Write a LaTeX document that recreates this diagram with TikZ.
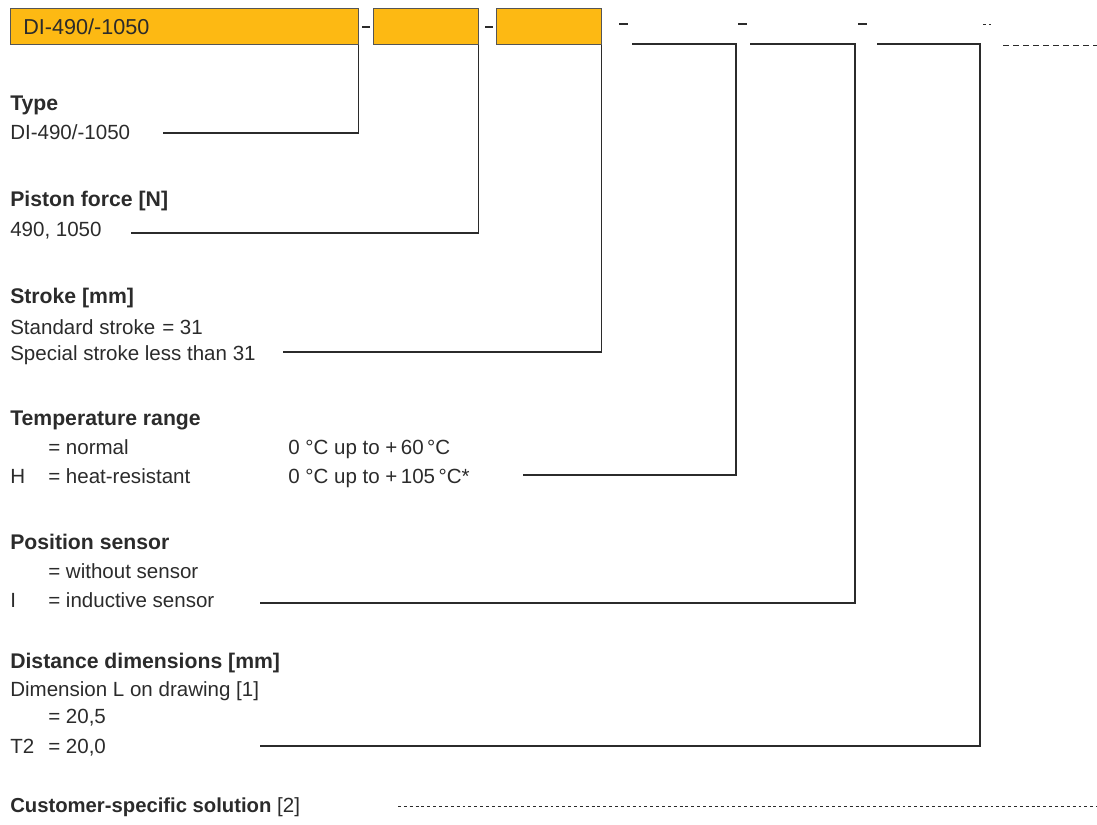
\documentclass[tikz,border=0pt]{standalone}
\usepackage{fontspec}
\setmainfont{Liberation Sans}
\definecolor{boxor}{HTML}{FDB913}
\definecolor{ink}{HTML}{2B2B2B}
\begin{document}
\begin{tikzpicture}[x=0.75pt,y=-0.75pt,
  txt/.style={anchor=base west, inner sep=0pt, text=ink, font=\fontsize{15.4}{18}\selectfont},
  hd/.style={txt, font=\fontsize{15.9}{18}\selectfont\bfseries},
  ln/.style={draw=ink, line width=0.8pt},
  dsh/.style={draw=ink, line width=0.7pt, dash pattern=on 4.5pt off 3pt},
  fine/.style={draw=ink, line width=0.6pt, dash pattern=on 2.2pt off 2.2pt},
  obox/.style={draw=ink!80, fill=boxor, line width=0.6pt, anchor=north west, inner sep=0pt, minimum height=27pt},
  sep/.style={draw=ink, line width=0.8pt}]
\useasboundingbox (0,0) rectangle (1097,825);

% top boxes
\node[obox, minimum width=261pt] (b1) at (10,8) {};
\node[obox, minimum width=78.75pt] (b2) at (373,8) {};
\node[obox, minimum width=78.75pt] (b3) at (496,8) {};
\node[txt, font=\fontsize{16.2}{18}\selectfont] (bt) at (23,34) {DI-490/-1050};

% separators
\coordinate (s1a) at (362,27); \coordinate (s1b) at (370,27);
\coordinate (s2a) at (485,27); \coordinate (s2b) at (493,27);
\coordinate (s3a) at (619,24); \coordinate (s3b) at (628,24);
\coordinate (s4a) at (738,24); \coordinate (s4b) at (747,24);
\coordinate (s5a) at (858,24); \coordinate (s5b) at (867,24);
\coordinate (s6a) at (983,24); \coordinate (s6b) at (991,24);
\draw[sep] (s1a) -- (s1b);
\draw[sep] (s2a) -- (s2b);
\draw[sep] (s3a) -- (s3b);
\draw[sep] (s4a) -- (s4b);
\draw[sep] (s5a) -- (s5b);
\draw[fine] (s6a) -- (s6b);
\coordinate (d1a) at (1003,45); \coordinate (d1b) at (1097,45);
\draw[dsh] (d1a) -- (d1b);

% Type
\node[hd] (h1) at (10,110) {Type};
\node[txt] (t1) at (10,139) {DI-490/-1050};
\coordinate (e1) at (163,133);
\draw[ln] (b1.south east) |- (e1);

% Piston force
\node[hd] (h2) at (10,206) {Piston force [N]};
\node[txt] (t2) at (10,236) {490, 1050};
\coordinate (e2) at (131,233);
\draw[ln] (b2.south east) |- (e2);

% Stroke
\node[hd] (h3) at (10,303) {Stroke [mm]};
\node[txt] (t3a) at (10,334) {Standard stroke};
\node[txt] (t3b) at (162,334) {= 31};
\node[txt] (t3c) at (10,360) {Special stroke less than 31};
\coordinate (e3) at (283,352);
\draw[ln] (b3.south east) |- (e3);

% Temperature
\node[hd] (h4) at (10,425) {Temperature range};
\node[txt] (t4a) at (48,454) {= normal};
\node[txt] (t4b) at (288,454) {0 °C up to +\,60\,°C};
\node[txt] (t4c) at (10,483) {H};
\node[txt] (t4d) at (48,483) {= heat-resistant};
\node[txt] (t4e) at (288,483) {0 °C up to +\,105\,°C*};
\coordinate (c4a) at (632,44); \coordinate (c4b) at (736,44);
\coordinate (e4) at (523,475);
\draw[ln] (c4a) -- (c4b) |- (e4);

% Position sensor
\node[hd] (h5) at (10,549) {Position sensor};
\node[txt] (t5a) at (48,578) {= without sensor};
\node[txt] (t5b) at (10,607) {I};
\node[txt] (t5c) at (48,607) {= inductive sensor};
\coordinate (c5a) at (750,44); \coordinate (c5b) at (855,44);
\coordinate (e5) at (260,603);
\draw[ln] (c5a) -- (c5b) |- (e5);

% Distance dimensions
\node[hd] (h6) at (10,668) {Distance dimensions [mm]};
\node[txt] (t6a) at (10,696) {Dimension L on drawing [1]};
\node[txt] (t6b) at (48,723) {= 20,5};
\node[txt] (t6c) at (10,753) {T2};
\node[txt] (t6d) at (48,753) {= 20,0};
\coordinate (c6a) at (877,44); \coordinate (c6b) at (980,44);
\coordinate (e6) at (260,746);
\draw[ln] (c6a) -- (c6b) |- (e6);

% Customer-specific
\node[txt] (h7) at (10,812) {{\fontsize{15.2}{18}\selectfont\bfseries Customer-specific solution} [2]};
\coordinate (c7a) at (398,806); \coordinate (c7b) at (1097,806);
\draw[fine] (c7a) -- (c7b);
\end{tikzpicture}
\end{document}
